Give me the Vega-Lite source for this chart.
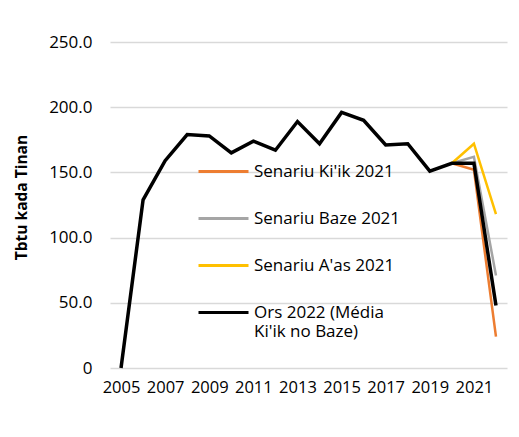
{
  "$schema": "https://vega.github.io/schema/vega-lite/v6.json",
  "width": 397,
  "height": 326,
  "autosize": {"type": "none"},
  "padding": {"left": 110, "top": 42, "right": 12, "bottom": 69},
  "background": "white",
  "config": {"view": {"stroke": null}, "font": "Open Sans"},
  "data": {
    "values": [
      {"year": 2005, "value": 0, "series": "Ors 2022 (Média Ki'ik no Baze)"},
      {"year": 2006, "value": 129, "series": "Ors 2022 (Média Ki'ik no Baze)"},
      {"year": 2007, "value": 159, "series": "Ors 2022 (Média Ki'ik no Baze)"},
      {"year": 2008, "value": 179, "series": "Ors 2022 (Média Ki'ik no Baze)"},
      {"year": 2009, "value": 178, "series": "Ors 2022 (Média Ki'ik no Baze)"},
      {"year": 2010, "value": 165, "series": "Ors 2022 (Média Ki'ik no Baze)"},
      {"year": 2011, "value": 174, "series": "Ors 2022 (Média Ki'ik no Baze)"},
      {"year": 2012, "value": 167, "series": "Ors 2022 (Média Ki'ik no Baze)"},
      {"year": 2013, "value": 189, "series": "Ors 2022 (Média Ki'ik no Baze)"},
      {"year": 2014, "value": 172, "series": "Ors 2022 (Média Ki'ik no Baze)"},
      {"year": 2015, "value": 196, "series": "Ors 2022 (Média Ki'ik no Baze)"},
      {"year": 2016, "value": 190, "series": "Ors 2022 (Média Ki'ik no Baze)"},
      {"year": 2017, "value": 171, "series": "Ors 2022 (Média Ki'ik no Baze)"},
      {"year": 2018, "value": 172, "series": "Ors 2022 (Média Ki'ik no Baze)"},
      {"year": 2019, "value": 151, "series": "Ors 2022 (Média Ki'ik no Baze)"},
      {"year": 2020, "value": 157, "series": "Ors 2022 (Média Ki'ik no Baze)"},
      {"year": 2021, "value": 157, "series": "Ors 2022 (Média Ki'ik no Baze)"},
      {"year": 2022, "value": 48, "series": "Ors 2022 (Média Ki'ik no Baze)"},
      {"year": 2020, "value": 157, "series": "Senariu Ki'ik 2021"},
      {"year": 2021, "value": 152, "series": "Senariu Ki'ik 2021"},
      {"year": 2022, "value": 24, "series": "Senariu Ki'ik 2021"},
      {"year": 2020, "value": 157, "series": "Senariu Baze 2021"},
      {"year": 2021, "value": 162, "series": "Senariu Baze 2021"},
      {"year": 2022, "value": 71, "series": "Senariu Baze 2021"},
      {"year": 2020, "value": 157, "series": "Senariu A'as 2021"},
      {"year": 2021, "value": 172, "series": "Senariu A'as 2021"},
      {"year": 2022, "value": 118, "series": "Senariu A'as 2021"}
    ]
  },
  "encoding": {
    "x": {
      "field": "year",
      "type": "quantitative",
      "scale": {"domain": [2004.5, 2022.5], "nice": false, "zero": false},
      "axis": {
        "values": [2005, 2007, 2009, 2011, 2013, 2015, 2017, 2019, 2021],
        "format": "d",
        "title": null,
        "domain": false,
        "ticks": false,
        "grid": false,
        "labelPadding": 11,
        "labelFontSize": 16.5,
        "labelColor": "#000000",
        "labelOverlap": false
      }
    },
    "y": {
      "field": "value",
      "type": "quantitative",
      "scale": {"domain": [0, 250], "nice": false},
      "axis": {
        "values": [0, 50, 100, 150, 200, 250],
        "labelExpr": "datum.value == 0 ? '0' : format(datum.value, '.1f')",
        "title": "Tbtu kada Tinan",
        "titleFontWeight": "bold",
        "titleFontSize": 15.5,
        "titleColor": "#000000",
        "titlePadding": 19,
        "titleY": 155,
        "domain": false,
        "ticks": false,
        "labelPadding": 18,
        "labelFontSize": 17,
        "labelColor": "#000000",
        "gridColor": "#d9d9d9",
        "gridWidth": 1.3
      }
    },
    "color": {
      "field": "series",
      "type": "nominal",
      "scale": {
        "domain": ["Senariu Ki'ik 2021", "Senariu Baze 2021", "Senariu A'as 2021", "Ors 2022 (Média Ki'ik no Baze)"],
        "range": ["#ED7D31", "#A5A5A5", "#FFC000", "#000000"]
      },
      "legend": {
        "title": null,
        "orient": "none",
        "legendX": 87,
        "legendY": 103,
        "symbolType": "stroke",
        "symbolSize": 2500,
        "symbolStrokeWidth": 3,
        "labelFontSize": 17,
        "labelColor": "#000000",
        "labelLimit": 300,
        "rowPadding": 12,
        "labelOffset": 4,
        "labelExpr": "datum.label == \"Ors 2022 (Média Ki'ik no Baze)\" ? ['Ors 2022 (Média', \"Ki'ik no Baze)\"] : datum.label"
      }
    }
  },
  "layer": [
    {
      "transform": [{"filter": "datum.series != \"Ors 2022 (Média Ki'ik no Baze)\""}],
      "mark": {"type": "line", "strokeWidth": 2.5}
    },
    {
      "transform": [{"filter": "datum.series == \"Ors 2022 (Média Ki'ik no Baze)\""}],
      "mark": {"type": "line", "strokeWidth": 3.5}
    }
  ]
}
